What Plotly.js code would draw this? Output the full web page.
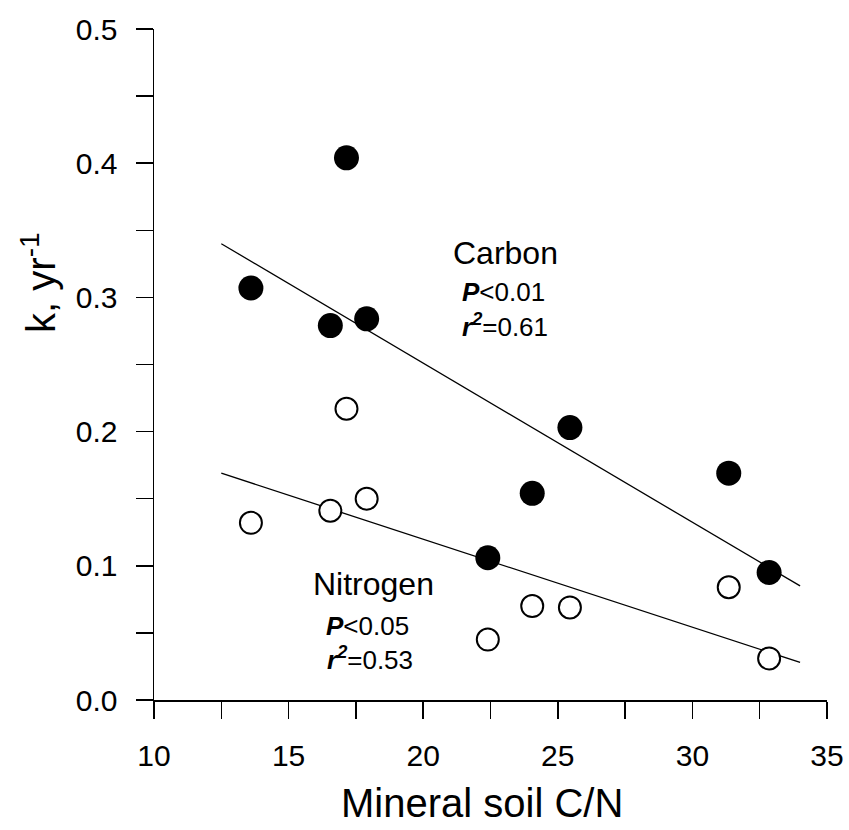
<!DOCTYPE html>
<html>
<head>
<meta charset="utf-8">
<script src="https://cdn.plot.ly/plotly-3.0.1.min.js"></script>
<style>html,body{margin:0;padding:0;background:#fff;}#chart{width:849px;height:830px;}</style>
</head>
<body>
<div id="chart"></div>
<script>
// Mineral soil C/N for each site
const carbonX = [13.6, 17.15, 16.55, 17.9, 25.45, 24.05, 31.35, 22.4, 32.85];
const carbonK = [0.307, 0.404, 0.279, 0.284, 0.203, 0.154, 0.169, 0.106, 0.095];
const nitrogenX = [13.6, 17.15, 16.55, 17.9, 25.45, 24.05, 31.35, 22.4, 32.85];
const nitrogenK = [0.132, 0.217, 0.141, 0.150, 0.069, 0.070, 0.084, 0.045, 0.031];
// Regression lines (end points)
const fitX = [12.5, 34.0];
const carbonFit = [0.340, 0.085];
const nitrogenFit = [0.169, 0.028];
const xTicks = [10, 15, 20, 25, 30, 35];
const yTicks = [0.0, 0.1, 0.2, 0.3, 0.4, 0.5];

const FONT = 'Liberation Sans, Arial, Helvetica, sans-serif';

const traces = [
  {x: fitX, y: carbonFit, mode: 'lines', line: {color: '#000', width: 1.3}, hoverinfo: 'skip'},
  {x: fitX, y: nitrogenFit, mode: 'lines', line: {color: '#000', width: 1.3}, hoverinfo: 'skip'},
  {x: nitrogenX, y: nitrogenK, mode: 'markers',
   marker: {symbol: 'circle', size: 22, color: '#fff', line: {color: '#000', width: 2}}},
  {x: carbonX, y: carbonK, mode: 'markers',
   marker: {symbol: 'circle', size: 25, color: '#000', line: {width: 0}}}
];

const ann = (x, y, text, size) => ({x: x, y: y, xref: 'x', yref: 'y', text: text, showarrow: false,
  xanchor: 'center', yanchor: 'middle', font: {family: FONT, size: size, color: '#000'}});

const layout = {
  width: 849, height: 830,
  margin: {l: 154, r: 22, t: 29, b: 130},
  paper_bgcolor: '#fff', plot_bgcolor: '#fff',
  showlegend: false,
  font: {family: FONT, color: '#000'},
  xaxis: {
    range: [10, 35], tickvals: xTicks, ticktext: xTicks.map(String),
    showgrid: false, zeroline: false, showline: true, linecolor: '#000', linewidth: 1.5,
    ticks: 'outside', ticklen: 17, tickwidth: 1.5, tickcolor: '#000',
    minor: {dtick: 2.5, tick0: 10, ticks: 'outside', ticklen: 17, tickwidth: 1.5, tickcolor: '#000', showgrid: false},
    tickfont: {family: FONT, size: 30, color: '#000'},
    ticklabelstandoff: 11
  },
  yaxis: {
    range: [0, 0.5], tickvals: yTicks, ticktext: yTicks.map(v => v.toFixed(1)),
    showgrid: false, zeroline: false, showline: true, linecolor: '#000', linewidth: 1.5,
    ticks: 'outside', ticklen: 17, tickwidth: 1.5, tickcolor: '#000',
    minor: {dtick: 0.05, tick0: 0, ticks: 'outside', ticklen: 17, tickwidth: 1.5, tickcolor: '#000', showgrid: false},
    tickfont: {family: FONT, size: 30, color: '#000'},
    ticklabelstandoff: 12
  },
  annotations: [
    ann(23.07, 0.333, 'Carbon', 32),
    ann(22.99, 0.304, '<b><i>P</i></b><0.01', 26),
    ann(23.03, 0.279, '<b><i>r<sup>2</sup></i></b>=0.61', 26),
    ann(18.15, 0.0863, 'Nitrogen', 32),
    ann(17.92, 0.0548, '<b><i>P</i></b><0.05', 26),
    ann(18.04, 0.031, '<b><i>r<sup>2</sup></i></b>=0.53', 26),
    {xref: 'paper', yref: 'paper', x: 0.487, y: -0.153, text: 'Mineral soil C/N', showarrow: false,
     xanchor: 'center', yanchor: 'middle', font: {family: FONT, size: 40, color: '#000'}},
    {xref: 'paper', yref: 'paper', x: -0.172, y: 0.622, text: 'k, yr<sup>-1</sup>', showarrow: false,
     textangle: -90, xanchor: 'center', yanchor: 'middle', font: {family: FONT, size: 40, color: '#000'}}
  ]
};

Plotly.newPlot('chart', traces, layout, {displayModeBar: false, staticPlot: true});
</script>
</body>
</html>
